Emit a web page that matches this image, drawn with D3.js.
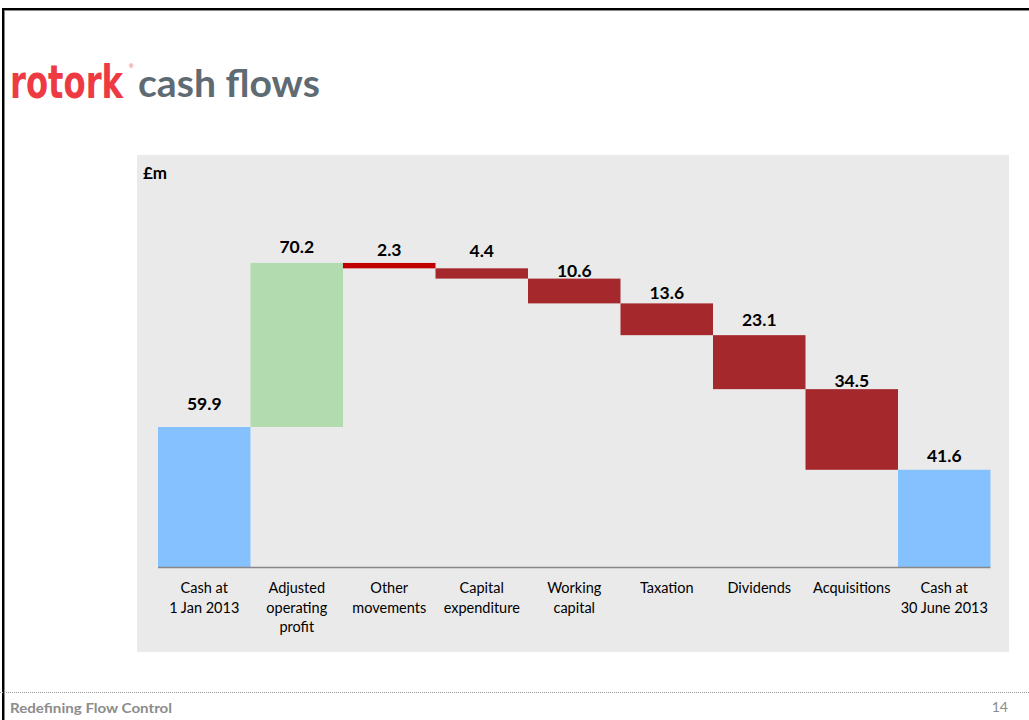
<!DOCTYPE html>
<html>
<head>
<meta charset="utf-8">
<script src="https://cdn.jsdelivr.net/npm/d3@7"></script>
<style>
  html, body { margin: 0; padding: 0; background: #fff; }
  svg { display: block; }
</style>
</head>
<body>
<svg id="chart" width="1029" height="720"></svg>
<script>
// ---- data ----
const categories = [
  ["Cash at", "1 Jan 2013"],
  ["Adjusted", "operating", "profit"],
  ["Other", "movements"],
  ["Capital", "expenditure"],
  ["Working", "capital"],
  ["Taxation"],
  ["Dividends"],
  ["Acquisitions"],
  ["Cash at", "30 June 2013"]
];
const values = [59.9, 70.2, -2.3, -4.4, -10.6, -13.6, -23.1, -34.5, 41.6];
const kinds = ["total", "up", "down2", "down", "down", "down", "down", "down", "total"];
const valueLabels = ["59.9", "70.2", "2.3", "4.4", "10.6", "13.6", "23.1", "34.5", "41.6"];
const unitLabel = "£m";
const titleBrand = "rotork";
const titleText = "cash flows";
const footerText = "Redefining Flow Control";
const pageNumber = "14";

// ---- layout / style (not data) ----
const labelGap = [17, 10, 7, 11, 2, 4, 9, 2, 8]; // px between bar top and label baseline, as placed in the slide
const colors = { total: "#85C1FF", up: "#B3DBB0", down: "#A4282C", down2: "#C00000" };
const FONT = "Lato, 'Open Sans', sans-serif";

// waterfall segments
let running = 0;
const segs = values.map((v, i) => {
  let y0, y1;
  if (kinds[i] === "total") { y0 = 0; y1 = v; running = v; }
  else { y0 = running; y1 = running + v; running = y1; }
  return { i, lo: Math.min(y0, y1), hi: Math.max(y0, y1), kind: kinds[i], label: valueLabels[i], cat: categories[i] };
});

const svg = d3.select("#chart");

// page frame
svg.append("line").attr("x1", 2).attr("x2", 1029).attr("y1", 10.5).attr("y2", 10.5).attr("stroke", "#888").attr("stroke-width", 1);
svg.append("line").attr("x1", 2).attr("x2", 1029).attr("y1", 9).attr("y2", 9).attr("stroke", "#000").attr("stroke-width", 2);
svg.append("line").attr("x1", 3).attr("x2", 3).attr("y1", 8).attr("y2", 720).attr("stroke", "#000").attr("stroke-width", 2);
svg.append("line").attr("x1", 4.5).attr("x2", 4.5).attr("y1", 10).attr("y2", 720).attr("stroke", "#888").attr("stroke-width", 1);

// title
svg.append("text").attr("x", 10).attr("y", 98).attr("fill", "#EE3B43").text(titleBrand)
  .attr("font-family", "'Liberation Sans Narrow', 'DejaVu Sans Condensed', Roboto, sans-serif")
  .attr("font-weight", "bold").attr("font-size", 46)
  .attr("textLength", 113).attr("lengthAdjust", "spacingAndGlyphs");
svg.append("text").attr("x", 129).attr("y", 68).attr("fill", "#EE3B43").text("®")
  .attr("font-family", "Arial, sans-serif").attr("font-size", 6);
svg.append("text").attr("x", 138).attr("y", 97).text(titleText)
  .attr("font-family", FONT)
  .attr("font-weight", "bold").attr("font-size", 38).attr("fill", "#5F6B73")
  .attr("textLength", 182).attr("lengthAdjust", "spacingAndGlyphs");

// panel
const panel = { x: 137, y: 155, w: 872, h: 497 };
svg.append("rect").attr("x", panel.x).attr("y", panel.y).attr("width", panel.w).attr("height", panel.h).attr("fill", "#EAEAEA");

svg.append("text").attr("x", 143).attr("y", 179).text(unitLabel)
  .attr("font-family", FONT).attr("font-weight", "bold").attr("font-size", 17).attr("fill", "#000");

// scales
const x = d3.scaleBand().domain(d3.range(categories.length)).range([157.5, 990]).padding(0);
const y = d3.scaleLinear().domain([0, 140]).range([567, 567 - 140 * 2.337]);

const g = svg.append("g");
g.selectAll("rect.bar").data(segs).join("rect").attr("class", "bar")
  .attr("x", d => x(d.i) + 0.5)
  .attr("width", x.bandwidth())
  .attr("y", d => y(d.hi))
  .attr("height", d => y(d.lo) - y(d.hi))
  .attr("fill", d => colors[d.kind]);

// axis
const axis = d3.axisBottom(x).tickSize(0).tickFormat("");
const ax = svg.append("g").attr("transform", "translate(0,567)").call(axis);
ax.select(".domain").attr("stroke", "#888").attr("stroke-width", 1.5);

// value labels
g.selectAll("text.val").data(segs).join("text").attr("class", "val")
  .attr("x", d => x(d.i) + x.bandwidth() / 2 + 0.5)
  .attr("y", d => y(d.hi) - labelGap[d.i])
  .attr("text-anchor", "middle")
  .attr("font-family", FONT).attr("font-weight", "bold").attr("font-size", 17.5)
  .attr("fill", "#000")
  .text(d => d.label);

// category labels
const cl = svg.append("g").selectAll("text.cat").data(segs).join("text").attr("class", "cat")
  .attr("x", d => x(d.i) + x.bandwidth() / 2 + 0.5)
  .attr("y", 593)
  .attr("text-anchor", "middle")
  .attr("font-family", FONT).attr("font-size", 14.5).attr("fill", "#000");
cl.selectAll("tspan").data(d => d.cat).join("tspan")
  .attr("x", function() { return d3.select(this.parentNode).attr("x"); })
  .attr("dy", (d, j) => j === 0 ? 0 : 19.5)
  .text(d => d);

// footer
svg.append("line").attr("x1", 0).attr("x2", 1029).attr("y1", 692.5).attr("y2", 692.5)
  .attr("stroke", "#999").attr("stroke-width", 1).attr("stroke-dasharray", "1,1");
svg.append("text").attr("x", 10).attr("y", 713).text(footerText)
  .attr("font-family", FONT).attr("font-weight", "bold").attr("font-size", 14).attr("fill", "#8C8C8C")
  .attr("textLength", 162).attr("lengthAdjust", "spacingAndGlyphs");
svg.append("text").attr("x", 1008).attr("y", 712).attr("text-anchor", "end").text(pageNumber)
  .attr("font-family", FONT).attr("font-size", 14).attr("fill", "#8C8C8C");
</script>
</body>
</html>
